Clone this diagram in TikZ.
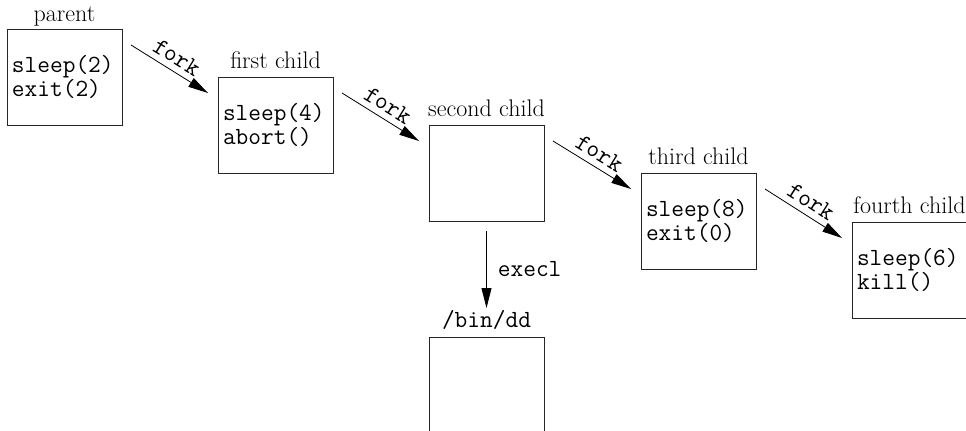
\documentclass[tikz,border=0pt]{standalone}
\usetikzlibrary{arrows.meta}
\begin{document}
\begin{tikzpicture}[x=0.75pt,y=-0.75pt,
 mono/.style={font=\ttfamily\fontsize{18.5}{18}\selectfont},
 proc/.style={draw=black!85, line width=0.6pt, anchor=north west, minimum width=86.25pt, minimum height=72pt, text width=78.75pt, inner xsep=3.75pt, inner ysep=0pt, align=left, outer sep=0pt, mono},
 lbl/.style={anchor=base, font=\fontsize{18}{20}\selectfont, inner sep=0pt},
 monolbl/.style={anchor=base, mono, inner sep=0pt},
 arr/.style={-{Triangle[length=15pt,width=7.5pt]}, line width=0.6pt},
 forklbl/.style={mono, sloped, above=4.5pt, midway, inner sep=0pt}
]
\clip (0,0) rectangle (966,431);
\node[proc] (p)  at (7,29)    {sleep(2)\\exit(2)};
\node[proc] (c1) at (218,77)  {sleep(4)\\abort()};
\node[proc] (c2) at (429,125) {};
\node[proc] (c3) at (641,173) {sleep(8)\\exit(0)};
\node[proc] (c4) at (852,222) {sleep(6)\\kill()};
\node[proc] (bd) at (429,337) {};
\node[lbl] (pl)  at ([yshift=5.5pt]p.north)  {parent};
\node[lbl] (c1l) at ([yshift=6pt]c1.north) {first child};
\node[lbl] (c2l) at ([yshift=6pt]c2.north) {second child};
\node[lbl] (c3l) at ([yshift=6pt]c3.north) {third child};
\node[lbl] (c4l) at ([yshift=6.5pt]c4.north) {fourth child};
\node[monolbl] (bdl) at ([yshift=7pt]bd.north) {/bin/dd};
\draw[arr] ([xshift=6.75pt,yshift=-12pt]p.north east) -- ([xshift=-7.5pt,yshift=-12pt]c1.north west) node[forklbl] (f1) {fork};
\draw[arr] ([xshift=6.75pt,yshift=-12pt]c1.north east) -- ([xshift=-7.5pt,yshift=-12pt]c2.north west) node[forklbl] (f2) {fork};
\draw[arr] ([xshift=6.75pt,yshift=-12pt]c2.north east) -- ([xshift=-7.5pt,yshift=-12pt]c3.north west) node[forklbl] (f3) {fork};
\draw[arr] ([xshift=6.75pt,yshift=-12pt]c3.north east) -- ([xshift=-7.5pt,yshift=-12pt]c4.north west) node[forklbl] (f4) {fork};
\draw[arr] ([yshift=-7.5pt]c2.south) -- ([yshift=21.75pt]bd.north) node[midway, right=8.25pt, inner sep=0pt, mono] (ex) {execl};
\end{tikzpicture}
\end{document}
